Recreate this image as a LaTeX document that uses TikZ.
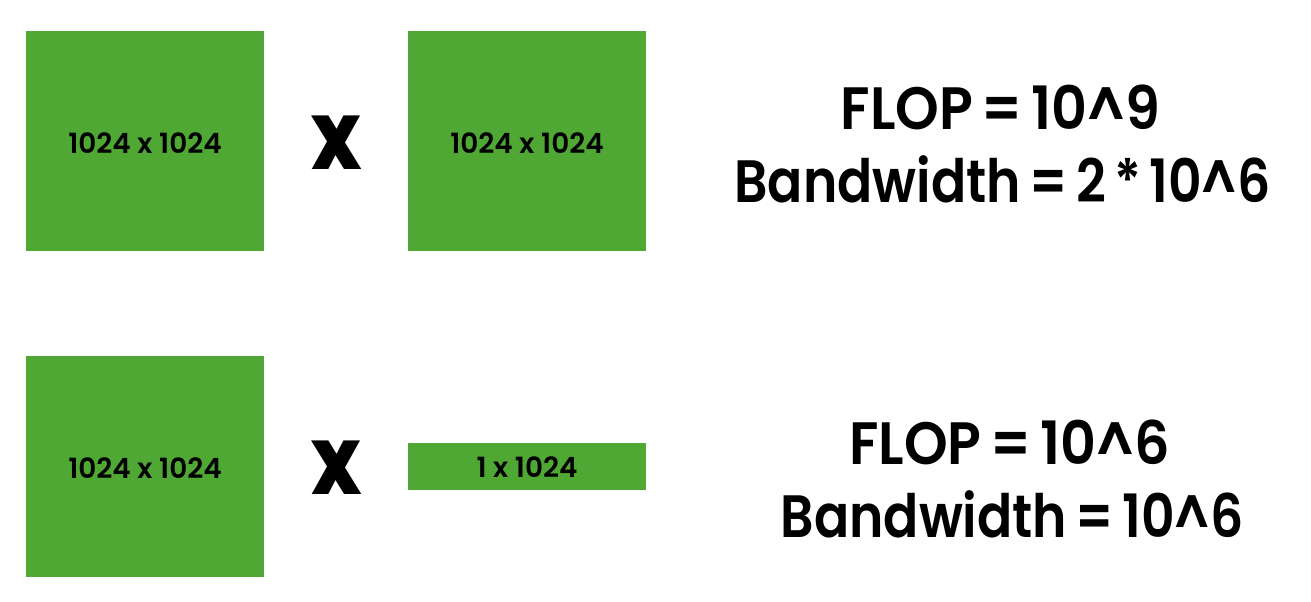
\documentclass[tikz,border=0pt]{standalone}
\usepackage{graphicx}
\usepackage{fontspec}
\setmainfont{Poppins}
\newfontfamily\psemi{Poppins SemiBold}
\newfontfamily\xfont{Poppins Black}
\definecolor{matgreen}{RGB}{79,168,51}
\newcommand{\narrowtxt}[1]{\scalebox{0.87}[1]{#1}}
\newcommand{\flopwidth}[1]{\scalebox{0.93}[1]{#1}}
\newcommand{\tightspaces}{\spaceskip=0.16em\relax}
\begin{document}
\begin{tikzpicture}[x=1bp,y=-1bp,
  mat/.style={fill=matgreen,draw=none},
  matlabel/.style={font=\psemi\fontsize{28}{28}\selectfont,text=black,inner sep=0pt},
  times/.style={font=\xfont\fontsize{76}{76}\selectfont,inner sep=0pt},
  result/.style={font=\psemi\fontsize{60}{60}\selectfont\tightspaces,inner sep=0pt,anchor=base}]
\useasboundingbox (0,0) rectangle (1311,602);
% top row
\fill[mat] (26,31) rectangle (264,251);
\node[matlabel] (a1) at (145,143.5) {1024 x 1024};
\node[times] (x1) at (336.5,142.5) {\narrowtxt{X}};
\fill[mat] (408,31) rectangle (646,251);
\node[matlabel] (b1) at (527,143.5) {1024 x 1024};
\node[result] (f1) at (1000.5,130) {\flopwidth{FLOP = 10\^{}9}};
\node[result] (w1) at (1002.5,202) {\narrowtxt{Bandwidth = 2 * 10\^{}6}};
% bottom row
\fill[mat] (26,356) rectangle (264,577);
\node[matlabel] (a2) at (145,468) {1024 x 1024};
\node[times] (x2) at (336.5,467.5) {\narrowtxt{X}};
\fill[mat] (408,443) rectangle (646,490);
\node[matlabel] (b2) at (527,467) {1 x 1024};
\node[result] (f2) at (1009.5,464) {\flopwidth{FLOP = 10\^{}6}};
\node[result] (w2) at (1012,537) {\narrowtxt{Bandwidth = 10\^{}6}};
\end{tikzpicture}
\end{document}
